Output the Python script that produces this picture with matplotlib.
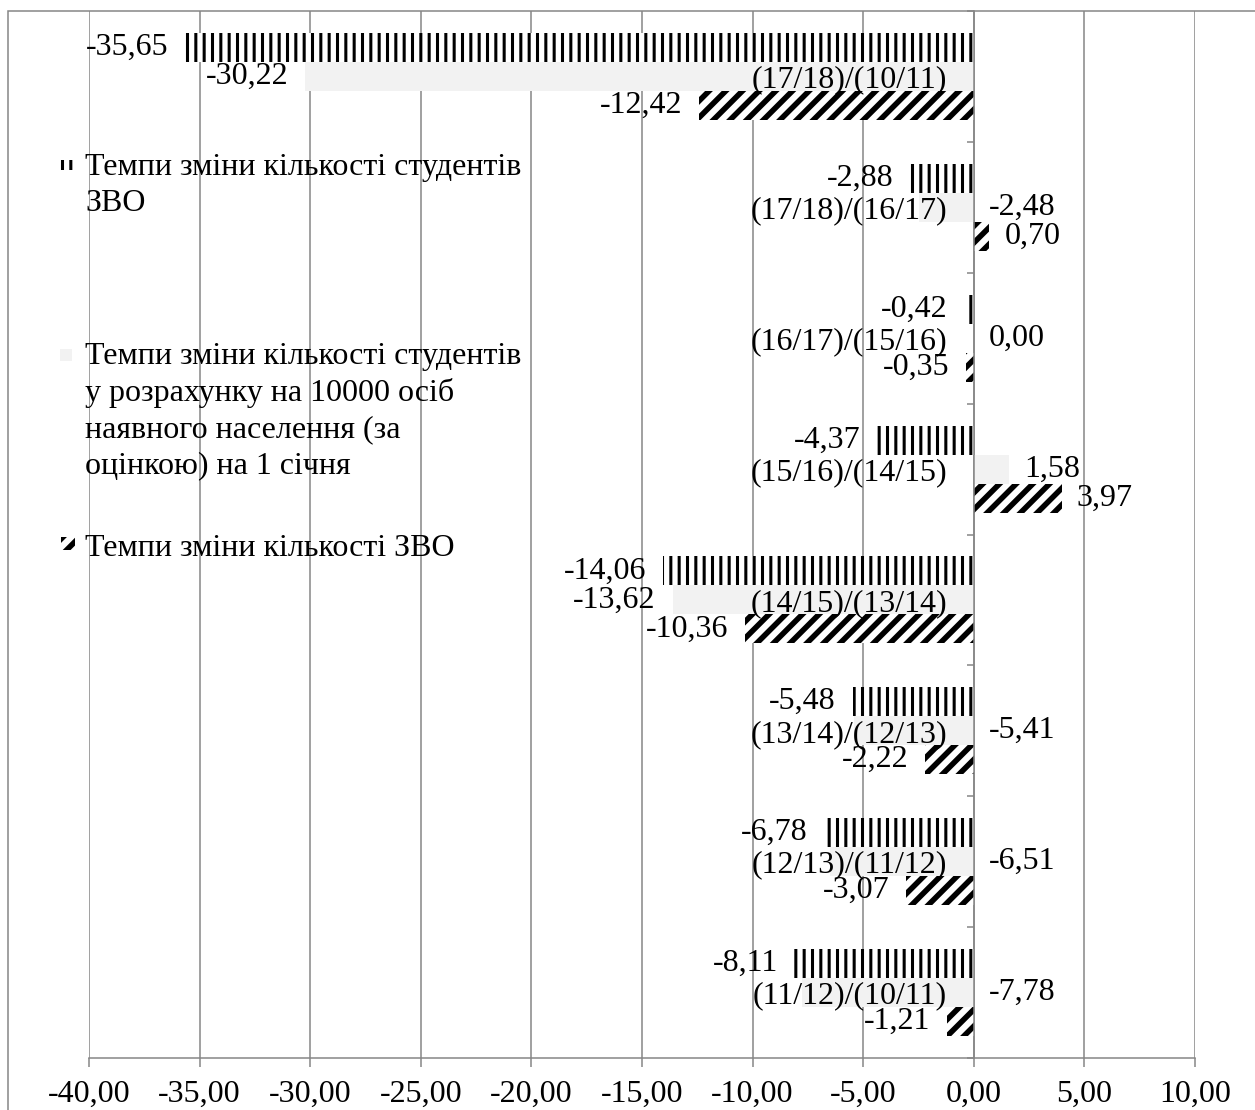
import matplotlib
matplotlib.use("Agg")
import matplotlib.pyplot as plt
from matplotlib.patches import Rectangle
from matplotlib.ticker import FixedLocator, FuncFormatter
import numpy as np

# ---------------- data (top to bottom as in the chart) ----------------
categories = ["(17/18)/(10/11)", "(17/18)/(16/17)", "(16/17)/(15/16)", "(15/16)/(14/15)",
              "(14/15)/(13/14)", "(13/14)/(12/13)", "(12/13)/(11/12)", "(11/12)/(10/11)"]
students = [-35.65, -2.88, -0.42, -4.37, -14.06, -5.48, -6.78, -8.11]
students_per_10000 = [-30.22, -2.48, 0.00, 1.58, -13.62, -5.41, -6.51, -7.78]
institutions = [-12.42, 0.70, -0.35, 3.97, -10.36, -2.22, -3.07, -1.21]
series_names = [
    "Темпи зміни кількості студентів\nЗВО",
    "Темпи зміни кількості студентів\nу розрахунку на 10000 осіб\nнаявного населення (за\nоцінкою) на 1 січня",
    "Темпи зміни кількості ЗВО",
]
x_ticks = [-40, -35, -30, -25, -20, -15, -10, -5, 0, 5, 10]

# label placement style for the middle series (True = label put right of the axis)
per10000_label_at_axis = [False, True, False, False, False, True, True, True]

# ---------------- style ----------------
plt.rcParams["font.family"] = ["Liberation Serif", "DejaVu Serif"]
FS = 23
GRID = "#868686"
W, H = 1255, 1110
HATCH_V_LW = 2.2
HATCH_D_LW = 4.0

fig = plt.figure(figsize=(W / 100, H / 100), dpi=100)
ax = fig.add_axes([89 / W, 1 - 1058 / H, (1195 - 89) / W, (1058 - 11) / H])

n = len(categories)
y = np.arange(n)
h = 0.2216

b1 = ax.barh(y - h, students, height=h, color="white", edgecolor="black",
             linewidth=0, hatch="||", zorder=2)
b2 = ax.barh(y, students_per_10000, height=h, color="#f2f2f2", linewidth=0, zorder=2)
b3 = ax.barh(y + h, institutions, height=h, color="white", edgecolor="black",
             linewidth=0, hatch="//", zorder=2)


def set_hlw(bars, lw):
    for p in bars:
        if hasattr(p, "set_hatch_linewidth"):
            p.set_hatch_linewidth(lw)


set_hlw(b1, HATCH_V_LW)
set_hlw(b3, HATCH_D_LW)

ax.set_xlim(-40, 10)
ax.set_ylim(n - 0.5, -0.5)


def fmt(v):
    return f"{v:.2f}".replace(".", ",")


def label(v, yy, at_axis=False):
    if v >= 0 or at_axis:
        ax.annotate(fmt(v), xy=(max(v, 0), yy), xytext=(11, 0), textcoords="offset points",
                    ha="left", va="center", fontsize=FS, zorder=4)
    else:
        ax.annotate(fmt(v), xy=(v, yy), xytext=(-12, 0), textcoords="offset points",
                    ha="right", va="center", fontsize=FS, zorder=4)


for i in range(n):
    label(students[i], y[i] - h)
    label(students_per_10000[i], y[i], per10000_label_at_axis[i])
    label(institutions[i], y[i] + h)

# axes / spines
for s in ("top", "right"):
    ax.spines[s].set_visible(False)
ax.spines["left"].set_position(("data", 0))
ax.spines["left"].set_color(GRID)
ax.spines["left"].set_linewidth(1.1)
ax.spines["bottom"].set_color(GRID)
ax.spines["bottom"].set_linewidth(1.1)

ax.xaxis.set_major_locator(FixedLocator(x_ticks))
ax.xaxis.set_major_formatter(FuncFormatter(lambda v, p: fmt(v)))
ax.tick_params(axis="x", which="major", length=6.5, width=1.1, color=GRID,
               labelsize=FS, pad=9)
ax.grid(axis="x", color=GRID, linewidth=1.1)

ax.set_yticks(y)
ax.set_yticklabels(categories)
ax.set_yticks(np.arange(-0.5, n, 1.0), minor=True)
ax.tick_params(axis="y", which="major", length=0, labelsize=FS, pad=19.4)
ax.tick_params(axis="y", which="minor", length=5, width=1.1, color=GRID, direction="out")

ax.xaxis.set_zorder(0.5)
ax.yaxis.set_zorder(3)

# chart border
fig.add_artist(Rectangle((8 / W, -0.1), 1.2, (1 - 11 / H) + 0.1, transform=fig.transFigure,
                         fill=False, edgecolor=GRID, linewidth=1.1, clip_on=False))


# legend (custom, as in the chart)
def px_rect(x0, y0, x1, y1, **kw):
    r = Rectangle((x0 / W, 1 - y1 / H), (x1 - x0) / W, (y1 - y0) / H,
                  transform=fig.transFigure, **kw)
    fig.add_artist(r)
    return r


r1 = px_rect(60, 160, 73, 170, facecolor="white", edgecolor="black", linewidth=0, hatch="||")
r2 = px_rect(60, 349, 72, 361, facecolor="#f2f2f2", linewidth=0)
r3 = px_rect(61, 537, 75, 550, facecolor="white", edgecolor="black", linewidth=0, hatch="//")
set_hlw([r1], HATCH_V_LW)
set_hlw([r3], HATCH_D_LW)

for name, top in zip(series_names, [153, 342, 534]):
    fig.text(85 / W, 1 - top / H, name, ha="left", va="top", fontsize=FS, linespacing=1.31)

fig.savefig("out.png", dpi=100)
